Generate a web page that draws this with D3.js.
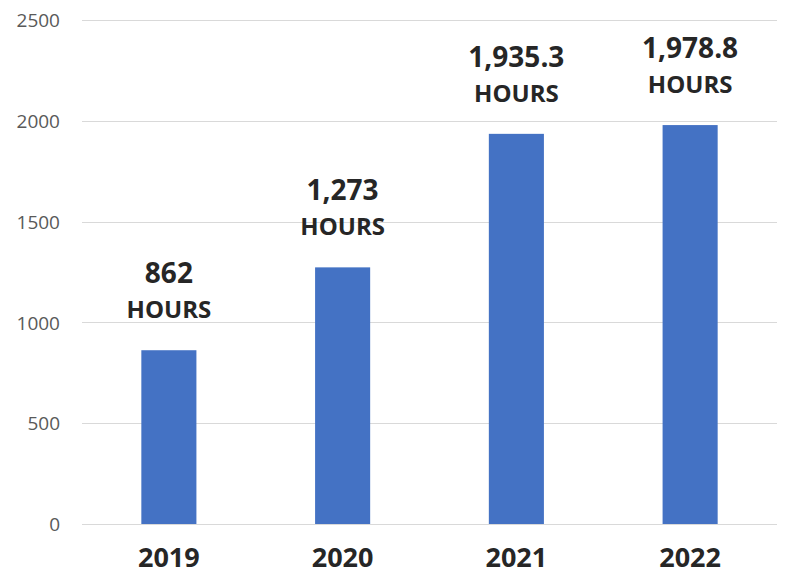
<!DOCTYPE html>
<html>
<head>
<meta charset="utf-8">
<script src="https://cdn.jsdelivr.net/npm/d3@7"></script>
<style>
  body { margin: 0; background: #fff; overflow: hidden; }
  svg { display: block; font-family: "Open Sans", sans-serif; }
</style>
</head>
<body>
<div id="chart"></div>
<script>
// data
var years = ["2019", "2020", "2021", "2022"];
var hours = [862, 1273, 1935.3, 1978.8];
var hourLabels = ["862", "1,273", "1,935.3", "1,978.8"];
var yTicks = [0, 500, 1000, 1500, 2000, 2500];

var width = 786, height = 577;

var svg = d3.select("#chart")
    .append("svg")
    .attr("width", width)
    .attr("height", height);

var x = d3.scaleBand()
    .domain(years)
    .range([82, 777])
    .paddingInner(0.683)
    .paddingOuter(0.683 / 2);

var y = d3.scaleLinear()
    .domain([0, 2500])
    .range([524, 20]);

// gridlines
svg.append("g")
    .selectAll("line")
    .data(yTicks)
    .enter()
    .append("line")
    .attr("x1", 82)
    .attr("x2", 777)
    .attr("y1", function(d) { return Math.round(y(d)) + 0.5; })
    .attr("y2", function(d) { return Math.round(y(d)) + 0.5; })
    .attr("stroke", "#d9d9d9")
    .attr("stroke-width", 1.2);

// y axis labels
var yAxis = svg.append("g")
    .attr("transform", "translate(60,0)")
    .call(d3.axisLeft(y).tickValues(yTicks).tickFormat(d3.format("d")).tickSize(0).tickPadding(0));
yAxis.select(".domain").remove();
yAxis.selectAll("text")
    .attr("fill", "#595959")
    .style("font-size", "19px")
    .style("font-family", "'Open Sans', sans-serif")
    .attr("dy", "0.35em");

var data = years.map(function(d, i) {
    return { year: d, value: hours[i], label: hourLabels[i] };
});

// bars
svg.selectAll("rect.bar")
    .data(data)
    .enter()
    .append("rect")
    .attr("class", "bar")
    .attr("x", function(d) { return x(d.year); })
    .attr("y", function(d) { return y(d.value); })
    .attr("width", x.bandwidth())
    .attr("height", function(d) { return y(0) - y(d.value); })
    .attr("fill", "#4472c4");

// value labels
var labels = svg.selectAll("g.label")
    .data(data)
    .enter()
    .append("g")
    .attr("class", "label")
    .attr("transform", function(d) {
        return "translate(" + (x(d.year) + x.bandwidth() / 2) + "," + (y(d.value) - 32) + ")";
    });

labels.append("text")
    .attr("text-anchor", "middle")
    .attr("y", -35)
    .attr("fill", "#262626")
    .style("font-size", "28px")
    .style("font-weight", "bold")
    .text(function(d) { return d.label; });

labels.append("text")
    .attr("text-anchor", "middle")
    .attr("y", 0)
    .attr("fill", "#262626")
    .style("font-size", "24px")
    .style("font-weight", "bold")
    .text("HOURS");

// x axis labels
svg.append("g")
    .selectAll("text")
    .data(years)
    .enter()
    .append("text")
    .attr("x", function(d) { return x(d) + x.bandwidth() / 2; })
    .attr("y", 567)
    .attr("text-anchor", "middle")
    .attr("fill", "#262626")
    .style("font-size", "27px")
    .style("font-weight", "bold")
    .text(function(d) { return d; });
</script>
</body>
</html>
